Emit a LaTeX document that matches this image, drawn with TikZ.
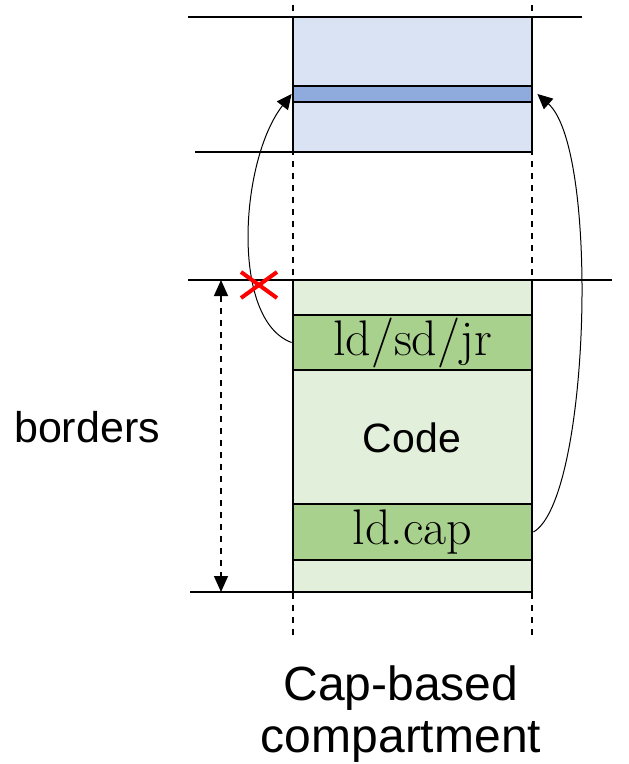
\documentclass[tikz,border=0pt]{standalone}
\usepackage{fontspec}
\newfontfamily\labelfont{Liberation Sans}
\usetikzlibrary{arrows.meta,calc}

\definecolor{bluelight}{HTML}{DAE3F3}
\definecolor{bluedark}{HTML}{8FAADC}
\definecolor{greenlight}{HTML}{E2EFDA}
\definecolor{greendark}{HTML}{A9D18E}

\tikzset{
  region/.style={draw, line width=1.4pt, minimum width=119.5pt, inner sep=0pt},
  guide/.style={line width=0.6pt},
  edge/.style={line width=0.7pt, dash pattern=on 3pt off 3pt},
  jumpto/.style={line width=0.5pt, -{Triangle[width=7pt,length=7.5pt]}},
  insn/.style={font=\fontsize{25}{28}\selectfont},
}

\begin{document}
\begin{tikzpicture}[x=0.5pt,y=-0.5pt]
      \useasboundingbox (0,0) rectangle (628,764);

      \coordinate (EL1) at (293,5);
      \coordinate (EL2) at (293,637);
      \coordinate (ER1) at (532,5);
      \coordinate (ER2) at (532,637);

      \coordinate (T1) at (188,17);
      \coordinate (T2) at (582,17);
      \coordinate (U1) at (195,152);
      \coordinate (B1) at (188,280);
      \coordinate (B2) at (612,280);
      \coordinate (D1) at (190,592);

      \coordinate (W1) at (221,280);
      \coordinate (W2) at (221,592);
      \coordinate (X) at (259,285);

      \draw[edge] (EL1) -- (EL2);
      \draw[edge] (ER1) -- (ER2);

      \draw[guide] (T1) -- (T2);
      \draw[guide] (U1) -- (293,152);
      \draw[guide] (B1) -- (B2);
      \draw[guide] (D1) -- (293,592);

      \node[region, fill=bluelight, minimum height=67.5pt] (upper) at (412.5,84.5) {};
      \node[region, fill=bluedark, minimum height=8pt] (slot) at (412.5,94) {};

      \node[region, fill=greenlight, minimum height=156pt] (lower) at (412.5,436) {};
      \node[region, fill=greendark, minimum height=27.5pt, insn] (jump) at (412.5,342.5) {ld/sd/jr};
      \node[region, fill=greendark, minimum height=28pt, insn] (load) at (412.5,532) {ld.cap};
      \node[font=\labelfont\fontsize{20.5}{24}\selectfont] (code) at (412,438) {Code};

      \node[font=\labelfont\fontsize{21.5}{26}\selectfont] (borders) at (87,427) {borders};
      \node[font=\labelfont\fontsize{24}{26}\selectfont, align=center] (name) at (401,714) {Cap-based\\compartment};

      \draw[edge, {Triangle[width=7pt,length=8pt]}-{Triangle[width=7pt,length=8pt]}] (W1) -- (W2);

      \draw[jumpto] (jump.west) .. controls (230,320) and (240,160) .. (slot.west);
      \draw[jumpto] (load.east) .. controls (590,500) and (600,150) .. ([xshift=2pt]slot.east);

      \draw[red, line width=2pt] ($(X)+(-18,-13)$) -- ($(X)+(18,13)$);
      \draw[red, line width=2pt] ($(X)+(-18,13)$) -- ($(X)+(18,-13)$);

    \end{tikzpicture}
\end{document}
